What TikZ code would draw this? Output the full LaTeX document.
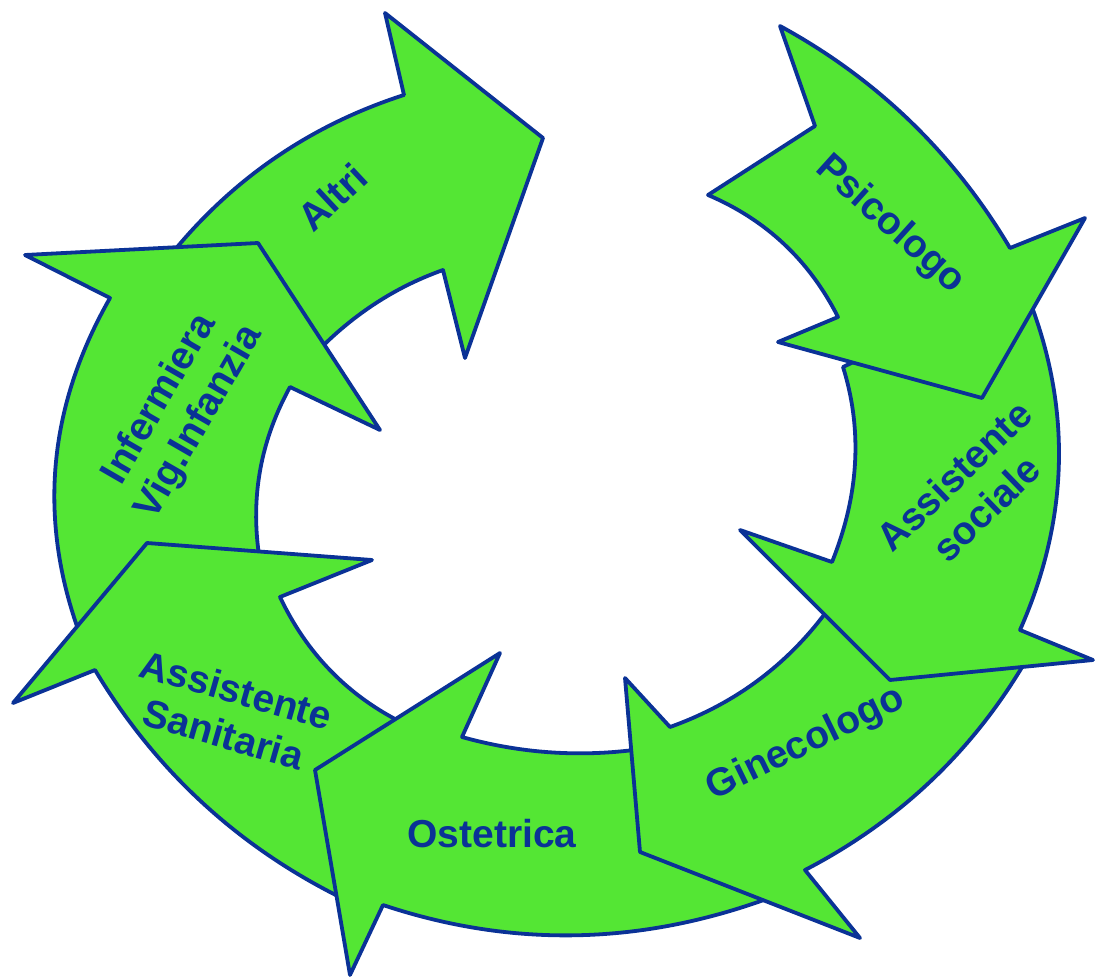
\documentclass[tikz,border=0pt]{standalone}
\usepackage{fontspec}
\setmainfont{Liberation Sans}
\definecolor{agreen}{RGB}{84,230,52}
\definecolor{ablue}{RGB}{10,50,150}
\tikzset{
  ringarrow/.style={fill=agreen, draw=ablue, line width=3.8pt, line join=round},
  lbl/.style={text=ablue, font=\bfseries\fontsize{39}{46}\selectfont, align=center, inner sep=0pt}
}
\begin{document}
\begin{tikzpicture}[x=1pt,y=-1pt]
\useasboundingbox (0,0) rectangle (1095,977);
% Altri
\draw[ringarrow] (165,262) .. controls (228,181.7) and (307.7,126) .. (404,95)
  -- (385,13) -- (543,138) -- (465,358) -- (443,270)
  .. controls (393.3,287.7) and (349.7,316.7) .. (312,357) -- cycle;
% Infermiera
\draw[ringarrow] (88,655) .. controls (36.7,532.7) and (44,413.7) .. (110,298)
  -- (25,255) -- (258,243) -- (380,430) -- (290,387)
  .. controls (258,445.3) and (248.7,507) .. (262,572) -- cycle;
% Assistente Sanitaria
\draw[ringarrow] (352,903) .. controls (243,851.3) and (157.3,773.7) .. (95,670)
  -- (13,703) -- (147,543) -- (372,560) -- (280,597)
  .. controls (310.3,661) and (358.7,706.3) .. (425,733) -- cycle;
% Ostetrica
\draw[ringarrow] (790,890) .. controls (653.7,945) and (518,950) .. (383,905)
  -- (350,975) -- (315,770) -- (500,653) -- (462,737)
  .. controls (529,755.7) and (596.7,758.3) .. (665,745) -- cycle;
% Ginecologo
\draw[ringarrow] (1032,650) .. controls (978.3,746) and (902.7,819.3) .. (805,870)
  -- (860,938) -- (640,852) -- (625,678) -- (670,727)
  .. controls (740.7,701.7) and (796.7,657.7) .. (838,595) -- cycle;
% Assistente sociale
\draw[ringarrow] (1022,282) .. controls (1072,398) and (1071.3,514) .. (1020,630)
  -- (1093,660) -- (890,680) -- (740,530) -- (832,562)
  .. controls (859,495) and (862.7,430) .. (843,367) -- cycle;
% Psicologo
\draw[ringarrow] (780,26) -- (815,126) -- (708,195)
  .. controls (766,219.7) and (809.3,260.3) .. (838,317)
  -- (778,342) -- (982,398) -- (1085,218) -- (1010,248)
  .. controls (953.3,152.7) and (876.7,78.7) .. (780,26) -- cycle;
% labels
\node[lbl, rotate=43] (altri) at (332,197) {Altri};
\node[lbl, rotate=-42] (psico) at (890,225) {Psicologo};
\node[lbl, rotate=44] (assoc) at (970,492) {Assistente\\sociale};
\node[lbl, rotate=26] (gine) at (806,744) {Ginecologo};
\node[lbl] (oste) at (492,834) {Ostetrica};
\node[lbl, rotate=-16] (assan) at (230,712) {Assistente\\Sanitaria};
\node[lbl, rotate=60] (inf) at (180,411) {Infermiera\\Vig.Infanzia};
\end{tikzpicture}
\end{document}
